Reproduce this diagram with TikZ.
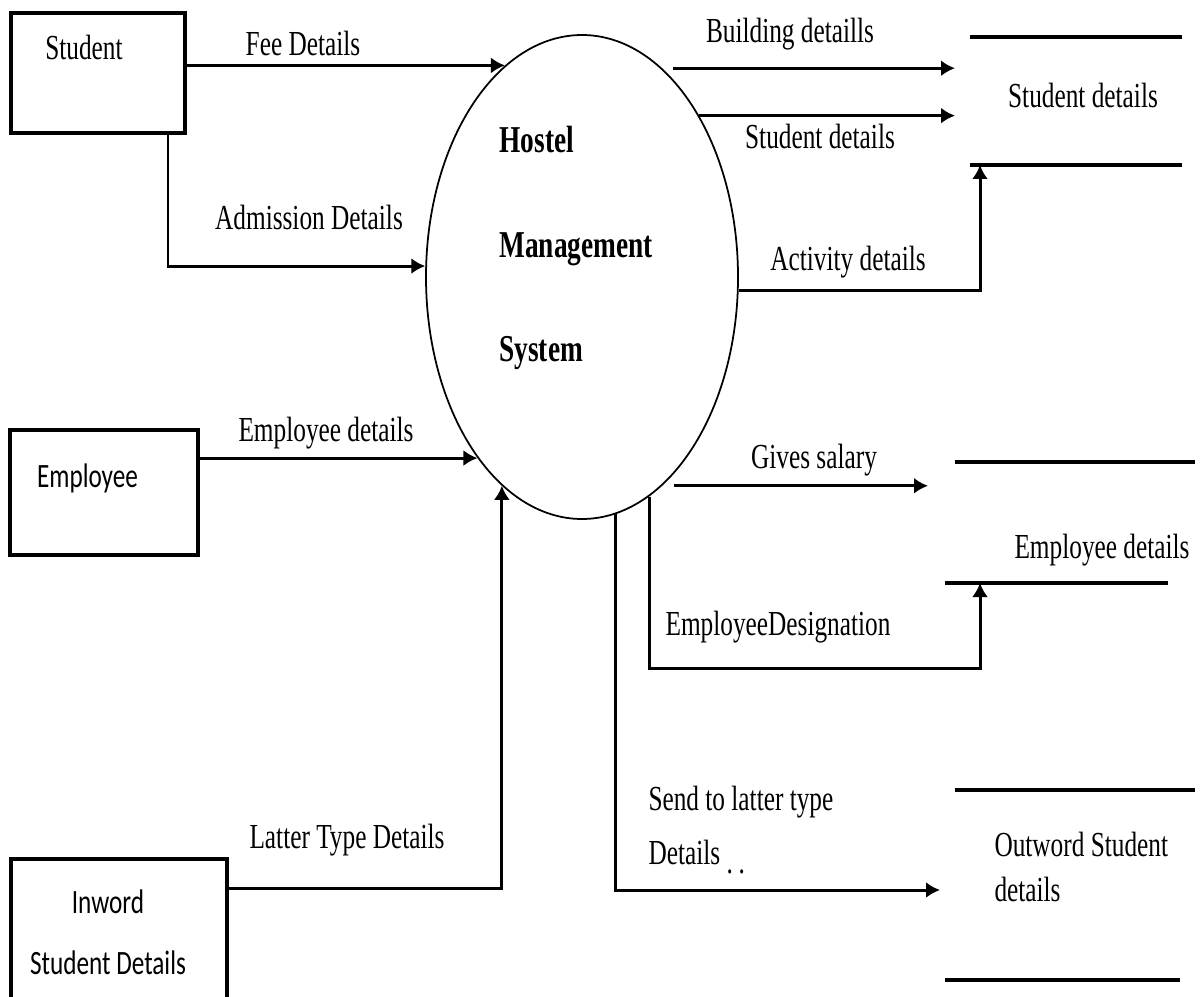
\documentclass[tikz,border=0pt]{standalone}
\usepackage{fontspec}
\setmainfont{Liberation Serif}[FakeStretch=0.72]
\newfontfamily\boxfont{Carlito}[FakeStretch=0.74]
\usetikzlibrary{shapes.geometric,arrows.meta}

\begin{document}
\begin{tikzpicture}[>={Latex[length=1.4mm,width=1.6mm]}, line width=0.85pt,
  box/.style={draw, line width=1pt, inner sep=0},
  lbl/.style={inner sep=0, font=\fontsize{10}{12}\selectfont},
  sans/.style={inner sep=0, font=\boxfont\fontsize{9.7}{11.6}\selectfont},
  store/.style={line width=1.1pt}]

\useasboundingbox (0,0) rectangle (12.04,-9.96);

\node[box, minimum width=1.74cm, minimum height=1.2cm] (S) at (0.98,-0.73) {};
\node[box, minimum width=1.88cm, minimum height=1.25cm] (E) at (1.04,-4.925) {};
\node[box, minimum width=2.16cm, minimum height=1.61cm] (I) at (1.19,-9.395) {};
\node[draw, ellipse, line width=0.5pt, inner sep=0, minimum width=3.12cm, minimum height=4.84cm] (H) at (5.82,-2.77) {};

\node[lbl] (A) at (0.84,-0.47) {Student};
\node[sans] (B) at (0.875,-4.78) {Employee};
\node[sans, align=center] (C) at (1.08,-9.32) {Inword\\[2mm]Student Details};
\node[lbl, anchor=west, align=left, font=\fontsize{10.8}{13}\bfseries\selectfont] (D) at (4.98,-2.48) {Hostel\\[5.9mm]Management\\[5.9mm]System};

\node[lbl] (F) at (3.03,-0.43) {Fee Details};
\node[lbl] (G) at (3.09,-2.17) {Admission Details};
\node[lbl] (K) at (7.90,-0.34) {Building detaills};
\node[lbl] (L) at (8.20,-1.36) {Student details};
\node[lbl] (M) at (8.48,-2.62) {Activity details};
\node[lbl] (N) at (3.26,-4.33) {Employee details};
\node[lbl] (P) at (3.47,-8.40) {Latter Type Details};
\node[lbl] (Q) at (8.14,-4.60) {Gives salary};
\node[lbl] (R) at (7.78,-6.27) {EmployeeDesignation};
\node[lbl, anchor=west, align=left, font=\fontsize{10}{15.3}\selectfont] (T) at (6.47,-8.30) {Send to latter type\\Details\ \raisebox{-0.6ex}{.\,.}};

\node[lbl] (SD) at (10.83,-0.95) {Student details};
\node[lbl] (ED) at (11.02,-5.50) {Employee details};
\node[lbl, anchor=west, align=left, font=\fontsize{10}{12.8}\selectfont] (OD) at (9.93,-8.67) {Outword Student\\details};

\draw[store] (9.70,-0.37) -- (11.82,-0.37);
\draw[store] (9.70,-1.65) -- (11.82,-1.65);
\draw[store] (9.55,-4.62) -- (11.95,-4.62);
\draw[store] (9.45,-5.83) -- (11.68,-5.83);
\draw[store] (9.55,-7.90) -- (11.95,-7.90);
\draw[store] (9.45,-9.80) -- (11.80,-9.80);

\coordinate (b1) at (9.55,-0.68);
\coordinate (b2) at (9.55,-1.15);
\coordinate (b3) at (9.80,-1.65);
\coordinate (b4) at (9.28,-4.87);
\coordinate (b5) at (9.80,-5.83);
\coordinate (b6) at (9.40,-8.90);

\draw[->] (S.east |- H.110.6) -- (H.110.6);
\draw[->] ([xshift=7mm]S.south) |- (H.176);
\draw[->] (E.east |- H.240.9) -- (H.240.9);
\draw[->] ([yshift=5.15mm]I.east) -| (H.249.3);

\draw[->] ([xshift=1.1mm]H.69.4) -- (b1 |- H.69.4);
\draw[->] (H.54.4) -- (b2 |- H.54.4);
\draw[->] (H.-5.5) -| (b3);
\draw[->] ([xshift=1.2mm]H.-69.7) -- (b4 |- H.-69.7);
\draw[->] (H.-73.5) |- ([yshift=-8.5mm]b5) -- (b5);
\draw[->] (H.-82.5) |- (b6);
\end{tikzpicture}
\end{document}
